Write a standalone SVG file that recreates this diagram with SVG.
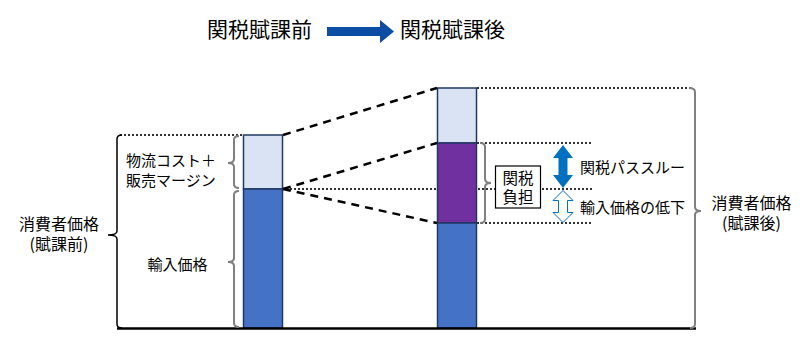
<svg xmlns="http://www.w3.org/2000/svg" width="800" height="350" viewBox="0 0 800 350">
<style>
text{font-family:"Noto Sans CJK JP","Noto Sans",sans-serif;fill:#000}
.t{font-size:21px}
.l{font-size:16px}
.m{font-size:15px}
.dot{stroke:#333;stroke-width:2;stroke-dasharray:2 2;fill:none}
.dash{stroke:#000;stroke-width:2.5;stroke-dasharray:8 6;fill:none}
.bar{stroke:#1F3864;stroke-width:1.5}
.br{fill:none;stroke:#808080;stroke-width:2}
</style>
<rect width="800" height="350" fill="#fff"/>
<g id="title">
<text class="t" x="207" y="37">関税賦課前</text>
<polygon points="327,27 380,27 380,20 394,31.5 380,43 380,36 327,36" fill="#0B4DA2"/>
<text class="t" x="400" y="37">関税賦課後</text>
</g>
<g id="guides">
<line class="dot" x1="120" y1="135" x2="243" y2="135"/>
<line class="dot" x1="477" y1="88" x2="693" y2="88"/>
<line class="dot" x1="477" y1="143" x2="593" y2="143"/>
<line class="dot" x1="477" y1="223" x2="593" y2="223"/>
<line class="dot" x1="282" y1="189" x2="593" y2="189"/>
</g>
<g id="bar-before">
<rect class="bar" x="243.5" y="135" width="39" height="54" fill="#DAE3F3"/>
<rect class="bar" x="243.5" y="189" width="39" height="139" fill="#4472C4"/>
</g>
<g id="bar-after">
<rect class="bar" x="437.5" y="88" width="39" height="55" fill="#DAE3F3"/>
<rect class="bar" x="437.5" y="143" width="39" height="80" fill="#7030A0"/>
<rect class="bar" x="437.5" y="223" width="39" height="105" fill="#4472C4"/>
</g>
<g id="connectors">
<line class="dash" x1="283" y1="135" x2="437" y2="88"/>
<line class="dash" x1="283" y1="189" x2="437" y2="143"/>
<line class="dash" x1="283" y1="189" x2="437" y2="223"/>
</g>
<line id="baseline" x1="117" y1="328.5" x2="696" y2="328.5" stroke="#000" stroke-width="2.5"/>
<g id="brace-consumer-before">
<path d="M122 135 Q117 135 117 139 L117 231 Q117 235 108 235 Q117 235 117 239 L117 324 Q117 328 122 328" fill="none" stroke="#000" stroke-width="1.5"/>
<text class="l" x="59" y="229.5" text-anchor="middle">消費者価格</text>
<text class="l" x="59" y="249.5" text-anchor="middle">(賦課前)</text>
</g>
<g id="brace-margin">
<path class="br" d="M239 136 Q234 136 234 140 L234 159 Q234 163 228 163 Q234 163 234 167 L234 184 Q234 188 239 188"/>
<text class="m" x="126" y="166">物流コスト＋</text>
<text class="m" x="126" y="186">販売マージン</text>
</g>
<g id="brace-import">
<path class="br" d="M239 191 Q234 191 234 195 L234 258 Q234 262 228 262 Q234 262 234 266 L234 323 Q234 327 239 327"/>
<text class="m" x="177.5" y="270" text-anchor="middle">輸入価格</text>
</g>
<g id="brace-tax">
<path class="br" d="M480 143 Q485 143 485 147 L485 179 Q485 183 491 183 Q485 183 485 187 L485 219 Q485 223 480 223"/>
<rect x="495.5" y="166" width="45" height="42" fill="#fff" stroke="#000" stroke-width="1.2"/>
<text x="518" y="183.5" text-anchor="middle" font-size="15.5">関税</text>
<text x="518" y="202.5" text-anchor="middle" font-size="15.5">負担</text>
</g>
<g id="passthrough">
<polygon points="563,145 573,158 567.5,158 567.5,175 573,175 563,188 553,175 558.5,175 558.5,158 553,158" fill="#0070C0"/>
<text class="m" x="580" y="173">関税パススルー</text>
</g>
<g id="import-drop">
<polygon points="563,190.5 573,200.5 567.5,200.5 567.5,212.5 573,212.5 563,222.5 553,212.5 558.5,212.5 558.5,200.5 553,200.5" fill="#fff" stroke="#0070C0" stroke-width="1"/>
<text class="m" x="580" y="213">輸入価格の低下</text>
</g>
<g id="brace-consumer-after">
<path class="br" d="M689 88 Q695 88 695 92 L695 207 Q695 211 701 211 Q695 211 695 215 L695 324 Q695 328 690 328"/>
<text class="l" x="751.5" y="208.5" text-anchor="middle">消費者価格</text>
<text class="l" x="751.5" y="228.5" text-anchor="middle">(賦課後)</text>
</g>
</svg>
